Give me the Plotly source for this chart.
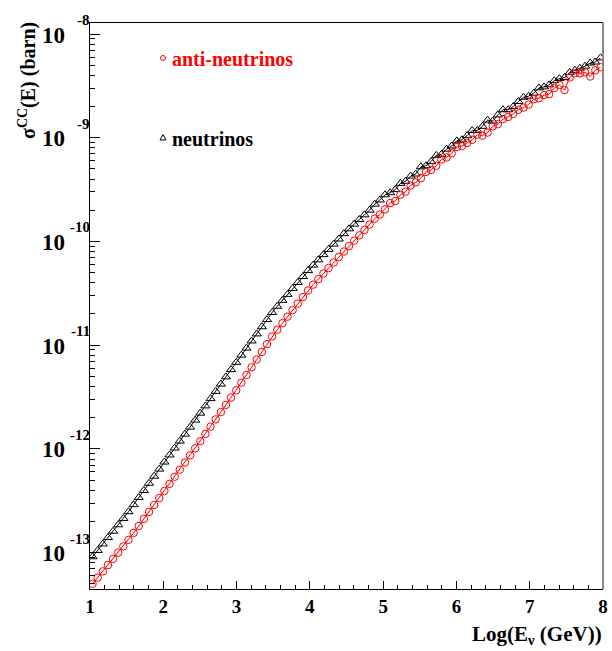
import numpy as np
import plotly.graph_objects as go

# log10(E_nu / GeV) bin centres
log_e = [1.035, 1.105, 1.175, 1.245, 1.315, 1.385, 1.455, 1.525, 1.595, 1.665,
         1.735, 1.805, 1.875, 1.945, 2.015, 2.085, 2.155, 2.225, 2.295, 2.365,
         2.435, 2.505, 2.575, 2.645, 2.715, 2.785, 2.855, 2.925, 2.995, 3.065,
         3.135, 3.205, 3.275, 3.345, 3.415, 3.485, 3.555, 3.625, 3.695, 3.765,
         3.835, 3.905, 3.975, 4.045, 4.115, 4.185, 4.255, 4.325, 4.395, 4.465,
         4.535, 4.605, 4.675, 4.745, 4.815, 4.885, 4.955, 5.025, 5.095, 5.165,
         5.235, 5.305, 5.375, 5.445, 5.515, 5.585, 5.655, 5.725, 5.795, 5.865,
         5.935, 6.005, 6.075, 6.145, 6.215, 6.285, 6.355, 6.425, 6.495, 6.565,
         6.635, 6.705, 6.775, 6.845, 6.915, 6.985, 7.055, 7.125, 7.195, 7.265,
         7.335, 7.405, 7.475, 7.545, 7.615, 7.685, 7.755, 7.825, 7.895, 7.965]

# log10(sigma_CC / barn), neutrinos
log_sigma_nu = [
    -13.039, -12.978, -12.916, -12.854, -12.793, -12.731, -12.670,
    -12.605, -12.537, -12.468, -12.400, -12.331, -12.263, -12.194,
    -12.126, -12.058, -11.991, -11.924, -11.857, -11.790, -11.722,
    -11.655, -11.585, -11.515, -11.445, -11.375, -11.305, -11.235, -11.165,
    -11.096, -11.028, -10.959, -10.891, -10.822, -10.753, -10.685,
    -10.625, -10.568, -10.510, -10.453, -10.395, -10.338, -10.280,
    -10.228, -10.177, -10.127, -10.076, -10.026, -9.976, -9.925,
    -9.878, -9.833, -9.788, -9.743, -9.698,
    -9.64, -9.60, -9.55, -9.53, -9.50, -9.44, -9.42, -9.37, -9.35, -9.28,
    -9.27, -9.23, -9.17, -9.16, -9.11, -9.08, -9.03, -9.02, -8.98, -8.93,
    -8.93, -8.89, -8.83, -8.84, -8.78, -8.73, -8.73, -8.70, -8.65, -8.61,
    -8.60, -8.57, -8.52, -8.51, -8.49, -8.45, -8.43, -8.42, -8.37, -8.35,
    -8.33, -8.31, -8.28, -8.27, -8.23]

# log10(sigma_CC / barn), anti-neutrinos
log_sigma_anu = [
    -13.300, -13.240, -13.180, -13.119, -13.059, -12.999, -12.939,
    -12.876, -12.809, -12.742, -12.674, -12.607, -12.540, -12.473,
    -12.405, -12.337, -12.268, -12.200, -12.131, -12.062, -11.994,
    -11.925, -11.855, -11.785, -11.715, -11.645, -11.575, -11.505, -11.435,
    -11.361, -11.287, -11.213, -11.138, -11.064, -10.990, -10.916,
    -10.851, -10.788, -10.725, -10.662, -10.599, -10.536, -10.473,
    -10.416, -10.363, -10.309, -10.256, -10.203, -10.150, -10.097,
    -10.044, -9.992, -9.941, -9.889, -9.837,
    -9.78, -9.74, -9.69, -9.63, -9.61, -9.55, -9.52, -9.46, -9.43, -9.39,
    -9.33, -9.31, -9.27, -9.21, -9.19, -9.15, -9.09, -9.08, -9.05, -9.02,
    -8.97, -8.98, -8.95, -8.89, -8.87, -8.82, -8.80, -8.77, -8.73, -8.71,
    -8.68, -8.63, -8.62, -8.59, -8.58, -8.52, -8.49, -8.54, -8.42, -8.38,
    -8.38, -8.37, -8.41, -8.35, -8.32]

x_ticks = [1, 2, 3, 4, 5, 6, 7, 8]
y_exponents = [-8, -9, -10, -11, -12, -13]

FONT = "Liberation Serif"

sigma_nu = np.power(10.0, np.array(log_sigma_nu))
sigma_anu = np.power(10.0, np.array(log_sigma_anu))

W, H = 612, 651
ML, MR, MT, MB = 90, 9, 23, 62
PW, PH = W - ML - MR, H - MT - MB


def px(xp):
    return (xp - ML) / PW


def py(yp):
    return (H - MB - yp) / PH


fig = go.Figure()
fig.add_trace(go.Scatter(
    x=log_e, y=sigma_nu, mode="lines+markers", name="neutrinos",
    line=dict(color="black", width=1),
    marker=dict(symbol="triangle-up-open", size=8, color="black",
                line=dict(width=1, color="black")),
    showlegend=False))
fig.add_trace(go.Scatter(
    x=log_e, y=sigma_anu, mode="lines+markers", name="anti-neutrinos",
    line=dict(color="#ff0000", width=1),
    marker=dict(symbol="circle-open", size=7.5, color="#ff0000",
                line=dict(width=1, color="#ff0000")),
    showlegend=False))

annotations = []
for e in y_exponents:
    annotations.append(dict(xref="paper", yref="y", x=0, y=e, xanchor="right",
                            yanchor="middle", xshift=-23, yshift=-1,
                            text="10", showarrow=False,
                            font=dict(family=FONT, size=23, color="black",
                                      weight="bold")))
    annotations.append(dict(xref="paper", yref="y", x=0, y=e, xanchor="right",
                            yanchor="middle", xshift=2, yshift=14,
                            text=str(e), showarrow=False,
                            font=dict(family=FONT, size=15, color="black",
                                      weight="bold")))

annotations.append(dict(xref="paper", yref="paper", x=px(28), y=py(81),
                        xanchor="center", yanchor="middle", textangle=-90,
                        text="σ<sup>CC</sup>(E) (barn)", showarrow=False,
                        font=dict(family=FONT, size=20, color="black",
                                  weight="bold")))
annotations.append(dict(xref="paper", yref="paper", x=1, y=py(635),
                        xanchor="right", yanchor="middle", xshift=1,
                        text="Log(E<sub>ν</sub> (GeV))", showarrow=False,
                        font=dict(family=FONT, size=21, color="black",
                                  weight="bold")))
annotations.append(dict(xref="paper", yref="paper", x=px(170), y=py(59),
                        xanchor="left", yanchor="middle",
                        text="anti-neutrinos", showarrow=False,
                        font=dict(family=FONT, size=20, color="#ff0000",
                                  weight="bold")))
annotations.append(dict(xref="paper", yref="paper", x=px(170), y=py(139),
                        xanchor="left", yanchor="middle",
                        text="neutrinos", showarrow=False,
                        font=dict(family=FONT, size=20, color="black",
                                  weight="bold")))

shapes = [
    dict(type="circle", xref="paper", yref="paper",
         x0=px(160.5), x1=px(165.5), y0=py(60.5), y1=py(55.5),
         line=dict(color="#ff0000", width=1)),
    dict(type="path", xref="paper", yref="paper",
         path=f"M {px(160)},{py(140)} L {px(166)},{py(140)} L {px(163)},{py(134.5)} Z",
         line=dict(color="black", width=1)),
    dict(type="line", xref="paper", yref="paper", x0=1, x1=1, y0=0, y1=1,
         line=dict(color="#888888", width=2)),
]

fig.update_layout(
    width=W, height=H,
    margin=dict(l=ML, r=MR, t=MT, b=MB, pad=0, autoexpand=False),
    paper_bgcolor="white", plot_bgcolor="white",
    showlegend=False,
    annotations=annotations,
    shapes=shapes,
    font=dict(family=FONT, color="black"),
)
fig.update_xaxes(
    range=[1, 8], tickvals=x_ticks, ticktext=[str(v) for v in x_ticks],
    automargin=False,
    ticks="inside", ticklen=8, tickwidth=1, tickcolor="black",
    showline=True, linecolor="black", linewidth=1, mirror=True,
    showgrid=False, zeroline=False,
    tickfont=dict(family=FONT, size=19, color="black", weight="bold"),
    minor=dict(ticks="inside", ticklen=4, tickcolor="black", dtick=0.2,
               showgrid=False),
)
fig.update_yaxes(
    type="log", range=[-13.35, -7.894], dtick=1, automargin=False,
    ticks="inside", ticklen=10, tickwidth=1, tickcolor="black",
    showline=True, linecolor="black", linewidth=1, mirror=False,
    showgrid=False, zeroline=False, showticklabels=False,
    minor=dict(ticks="inside", ticklen=5, tickcolor="black", dtick="D1",
               showgrid=False),
)

fig.write_html("out.html")
